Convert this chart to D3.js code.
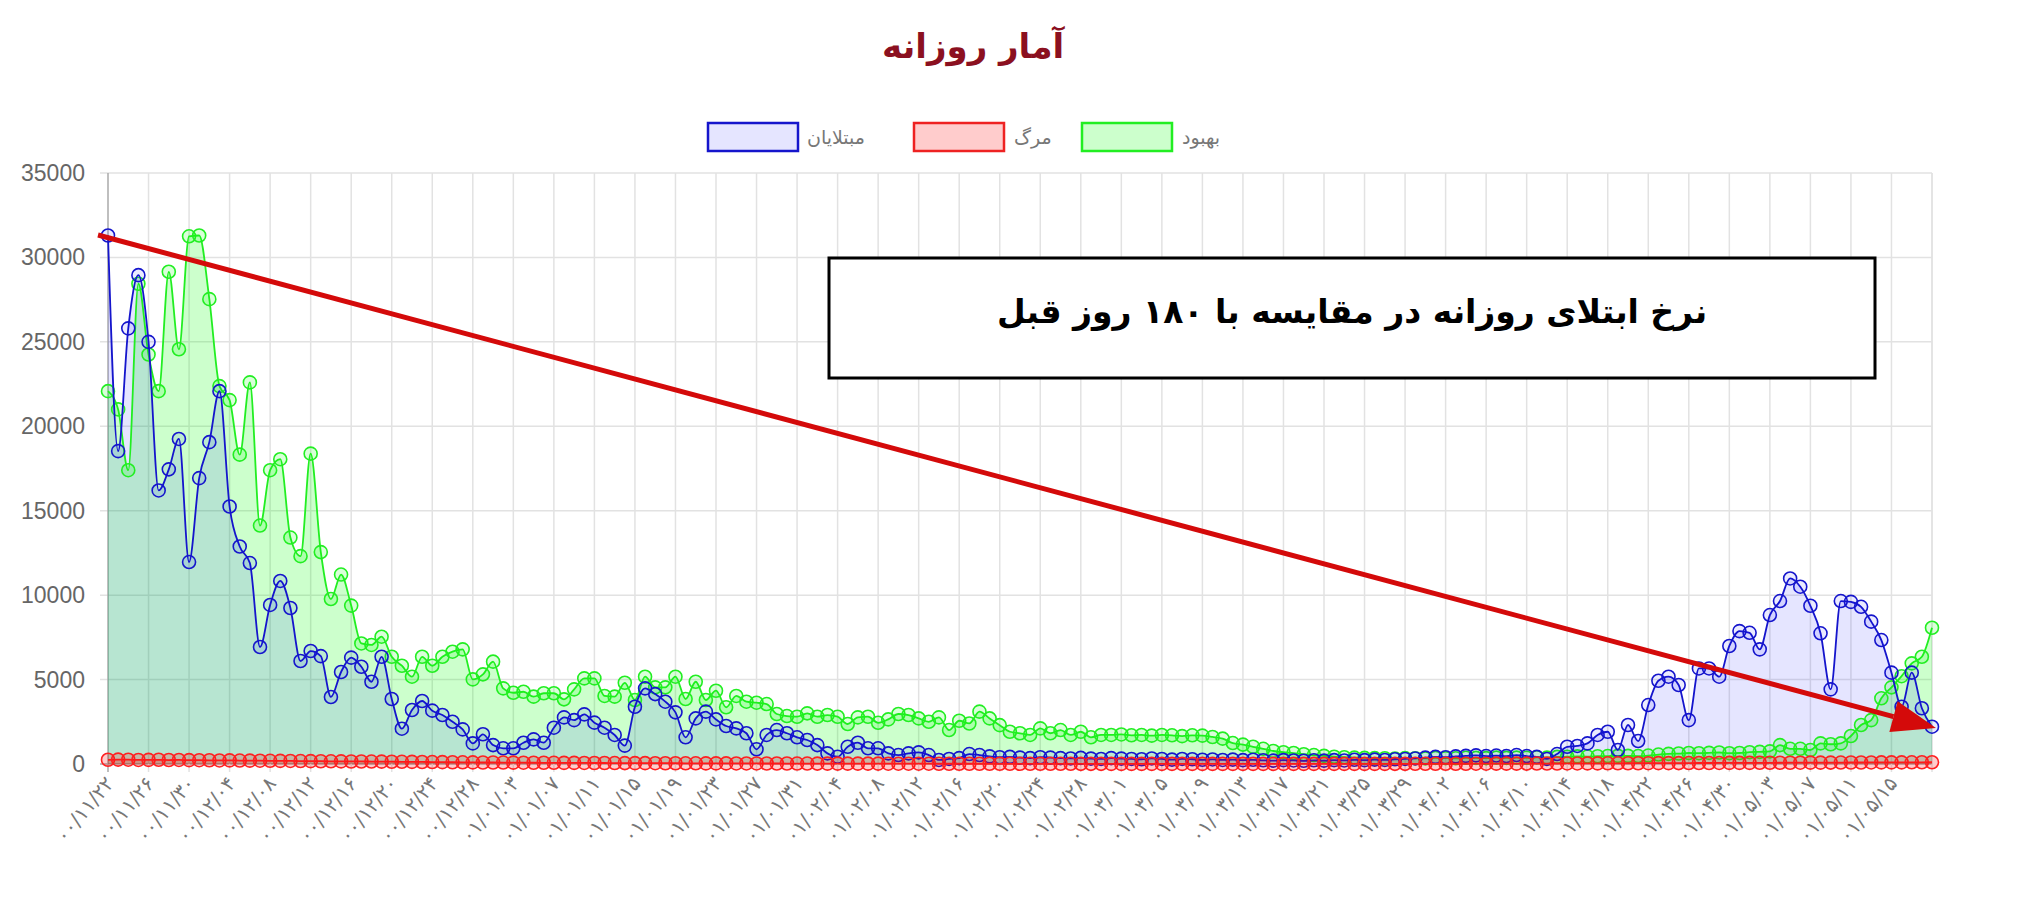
<!DOCTYPE html>
<html><head><meta charset="utf-8">
<script src="https://cdn.jsdelivr.net/npm/d3@7/dist/d3.min.js"></script>
<style>body{margin:0;background:#fff}svg{display:block}</style>
</head><body>
<svg id="c" width="2018" height="902"></svg>
<script>
const title = "آمار روزانه";
const seriesNames = ["مبتلایان","مرگ","بهبود"];
const annotation = "نرخ ابتلای روزانه در مقایسه با ۱۸۰ روز قبل";
const yTicks = [0,5000,10000,15000,20000,25000,30000,35000];
const tickLabels = ["00/11/22","00/11/26","00/11/30","00/12/04","00/12/08","00/12/12","00/12/16","00/12/20","00/12/24","00/12/28",
"01/01/03","01/01/07","01/01/11","01/01/15","01/01/19","01/01/23","01/01/27","01/01/31","01/02/04","01/02/08","01/02/12","01/02/16",
"01/02/20","01/02/24","01/02/28","01/03/01","01/03/05","01/03/09","01/03/13","01/03/17","01/03/21","01/03/25","01/03/29","01/04/02",
"01/04/06","01/04/10","01/04/14","01/04/18","01/04/22","01/04/26","01/04/30","01/05/03","01/05/07","01/05/11","01/05/15"];
const cases = [31300,18530,25800,28950,25000,16200,17450,19250,11960,16930,19060,22080,15250,12880,11900,6930,9420,10840,9240,6100,6690,6390,3970,5450,6300,5760,
4870,6350,3850,2090,3200,3730,3160,2900,2500,2050,1220,1760,1120,930,930,1260,1460,1260,2150,2760,2600,2940,2450,2150,1720,1090,3390,4480,4140,3690,3060,1580,2700,3100,
2640,2250,2110,1820,870,1720,2010,1820,1580,1420,1120,630,430,1020,1260,930,930,630,530,630,690,530,240,
300,350,590,530,450,400,420,380,350,400,380,350,330,360,320,300,350,
320,300,280,330,300,260,300,280,250,270,240,260,230,250,220,200,230,210,190,220,200,230,210,250,230,260,240,280,
300,330,380,420,400,450,480,510,470,500,
470,530,470,420,300,590,1020,1070,1220,1720,1910,830,2310,1360,3490,4930,5170,4680,2600,5660,5660,5170,6990,7870,7770,6790,8820,9650,10990,10500,9370,7740,4420,9650,9600,9310,8430,7340,5410,3390,5410,3300,2210];
const recovered = [22080,21000,17400,28440,24250,22080,29150,24560,31250,31300,27530,22380,21550,18320,22600,14120,17400,18050,13410,12310,18380,12550,9770,11220,9380,7140,
7050,7540,6350,5820,5170,6350,5820,6350,6650,6790,5010,5310,6060,4480,4220,4280,3990,4190,4190,3830,4420,5070,5070,4030,3990,4810,3790,5170,4540,4540,5170,3850,4870,3790,
4340,3360,4030,3690,3630,3550,2960,2840,2800,3000,2800,2900,2800,2370,2760,2800,2440,2640,2960,2900,2700,2500,2760,2010,2560,2400,3100,2700,2300,1910,1820,1720,2110,1820,2010,1720,1910,1580,1720,1720,
1750,1700,1720,1680,1720,1700,1650,1700,1680,1600,1500,1240,1150,1020,900,770,700,650,580,530,480,430,400,380,360,350,340,330,350,340,330,360,350,340,370,360,350,380,
360,380,370,400,380,420,430,450,440,460,470,480,480,470,500,560,600,620,650,640,660,680,640,650,700,720,750,1120,900,900,830,1220,1170,1220,1660,2310,2600,3890,4540,5200,5960,6350,8070];
const deaths = [250,260,255,240,245,250,235,240,230,225,220,210,215,205,200,195,190,185,180,175,
170,165,160,155,150,150,145,140,135,130,125,120,115,110,105,100,95,90,88,85,
80,78,75,72,70,68,65,62,60,58,56,54,52,50,48,46,44,42,40,38,
36,35,34,33,32,30,29,28,27,26,25,24,23,22,21,20,20,19,18,18,
17,17,16,16,15,15,14,14,13,13,12,12,12,11,11,11,10,10,10,9,
9,9,8,8,8,8,7,7,7,7,6,6,6,6,6,5,5,5,5,6,
6,6,7,7,8,8,9,10,10,11,12,13,14,15,16,17,18,20,22,24,
25,26,28,30,32,34,36,38,40,42,44,46,48,50,52,54,56,58,60,62,
64,66,68,70,72,74,76,78,80,82,84,86,88,90,92,94,96,98,100,102,104];

const fa = s => s.replace(/[0-9]/g, d => "۰۱۲۳۴۵۶۷۸۹"[d]);
const svg = d3.select("#c");
const F = "'DejaVu Sans', sans-serif";
const x = d3.scaleLinear().domain([0, cases.length-1]).range([108,1932]);
const y = d3.scaleLinear().domain([0,35000]).range([764,173]);

const g = svg.append("g");
g.selectAll(".hg").data(yTicks).join("line").attr("x1",100).attr("x2",1932)
 .attr("y1",d=>y(d)).attr("y2",d=>y(d)).attr("stroke",d=>d===0?"#aaa":"#e2e2e2").attr("stroke-width",1.5);
const vt = d3.range(0, cases.length, 4);
g.selectAll(".vg").data(vt).join("line").attr("x1",d=>x(d)).attr("x2",d=>x(d))
 .attr("y1",173).attr("y2",772).attr("stroke",d=>d===0?"#aaa":"#e2e2e2").attr("stroke-width",1.5);
g.append("line").attr("x1",x(180)).attr("x2",x(180)).attr("y1",173).attr("y2",764).attr("stroke","#e2e2e2").attr("stroke-width",1.5);

g.selectAll(".yl").data(yTicks).join("text").attr("x",85).attr("y",d=>y(d)+8)
 .attr("text-anchor","end").attr("font-family","'Liberation Sans', Arial").attr("font-size",23).attr("fill","#666").text(d=>d);
g.selectAll(".xl").data(tickLabels).join("text")
 .attr("transform",(d,i)=>`translate(${x(i*4)+7},${784}) rotate(-50)`)
 .attr("text-anchor","end").attr("direction","ltr").attr("font-family",F).attr("font-size",20).attr("fill","#777")
 .text(d=>fa(d));

const curve = d3.curveMonotoneX;
function area(data, fill){
  svg.append("path").datum(data).attr("fill",fill)
   .attr("d", d3.area().x((d,i)=>x(i)).y0(y(0)).y1(d=>y(d)).curve(curve));
}
function line(data, stroke, pfill){
  svg.append("path").datum(data).attr("fill","none").attr("stroke",stroke).attr("stroke-width",1.8)
   .attr("d", d3.line().x((d,i)=>x(i)).y(d=>y(d)).curve(curve));
  svg.append("g").selectAll("circle").data(data).join("circle").attr("cx",(d,i)=>x(i)).attr("cy",d=>y(d))
   .attr("r",6.5).attr("fill",pfill).attr("stroke",stroke).attr("stroke-width",1.6);
}
area(recovered,"rgba(0,255,0,0.2)");
area(cases,"rgba(0,0,255,0.1)");
area(deaths,"rgba(255,0,0,0.2)");
line(recovered,"#22ee22","rgba(0,255,0,0.15)");
line(cases,"#1515cc","rgba(0,0,255,0.08)");
line(deaths,"#ff2020","rgba(255,0,0,0.2)");

svg.append("text").attr("x",973).attr("y",58).attr("text-anchor","middle").attr("font-family",F)
 .attr("font-weight","bold").attr("font-size",34).attr("fill","#8b1020").text(title);

const leg = [
 {n:seriesNames[0], bx:708, tx:807, s:"#1515cc", f:"rgba(0,0,255,0.1)"},
 {n:seriesNames[1], bx:914, tx:1014, s:"#ee2222", f:"rgba(255,0,0,0.2)"},
 {n:seriesNames[2], bx:1082, tx:1182, s:"#22ee22", f:"rgba(0,255,0,0.2)"}];
leg.forEach(l=>{
  svg.append("rect").attr("x",l.bx).attr("y",123).attr("width",90).attr("height",28).attr("fill",l.f).attr("stroke",l.s).attr("stroke-width",2.5);
  svg.append("text").attr("x",l.tx).attr("y",144).attr("font-family",F).attr("font-size",19).attr("fill","#777")
   .attr("text-anchor","start").text(l.n);
});

svg.append("rect").attr("x",829).attr("y",258).attr("width",1046).attr("height",120).attr("fill","#fff").attr("stroke","#000").attr("stroke-width",3);
svg.append("text").attr("x",1352).attr("y",323).attr("text-anchor","middle").attr("font-family",F).attr("font-weight","bold")
 .attr("font-size",33).attr("fill","#000").text(annotation);

const x0=98,y0=235,x1=1936,y1=728;
const ang=Math.atan2(y1-y0,x1-x0), L=44, W=16;
const bx=x1-L*Math.cos(ang), by=y1-L*Math.sin(ang);
svg.append("line").attr("x1",x0).attr("y1",y0).attr("x2",bx).attr("y2",by).attr("stroke","#d40a0a").attr("stroke-width",5);
svg.append("polygon").attr("fill","#d40a0a").attr("points",
 [[x1,y1],[bx+W*Math.sin(ang),by-W*Math.cos(ang)],[bx-W*Math.sin(ang),by+W*Math.cos(ang)]].map(p=>p.join(",")).join(" "));
</script>
</body></html>
